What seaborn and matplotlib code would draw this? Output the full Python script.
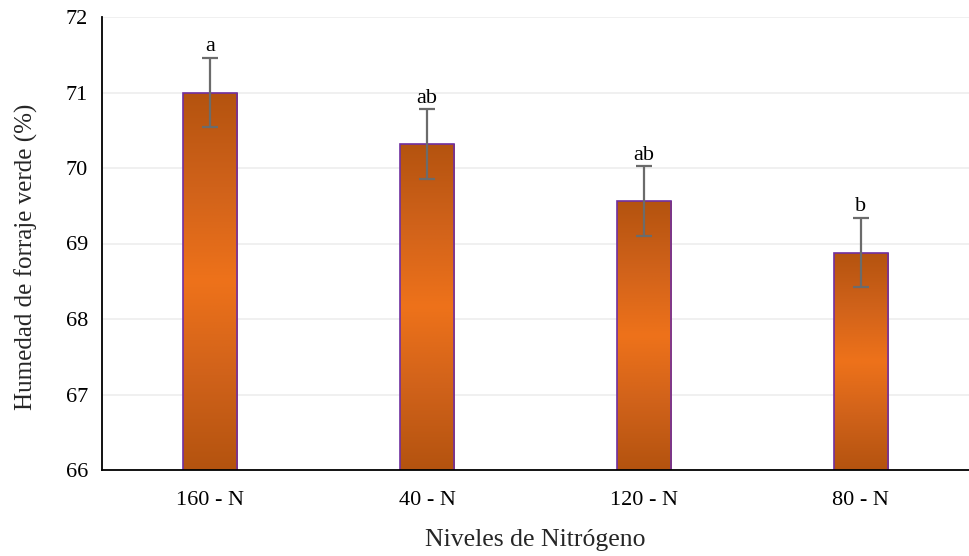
import numpy as np
import pandas as pd
import matplotlib
matplotlib.use("Agg")
import matplotlib.pyplot as plt
import seaborn as sns
from matplotlib.colors import LinearSegmentedColormap

categories = ["160 - N", "40 - N", "120 - N", "80 - N"]
values = [71.0, 70.32, 69.56, 68.88]
errors = [0.46, 0.46, 0.46, 0.46]
letters = ["a", "ab", "ab", "b"]
yticks = [66, 67, 68, 69, 70, 71, 72]

sns.set_theme(style="white")
plt.rcParams["font.family"] = ["Liberation Serif", "DejaVu Serif"]

df = pd.DataFrame({"cat": categories, "val": values})

fig = plt.figure(figsize=(9.69, 5.56), dpi=100)
ax = fig.add_axes([102 / 969, 1 - 470 / 556, (969 - 102) / 969, (470 - 17) / 556])

sns.barplot(data=df, x="cat", y="val", ax=ax, width=0.25, color="#D9651A",
            edgecolor="#7030A0", linewidth=1.2, zorder=2)

ax.set_ylim(66, 72)
ax.set_xlim(-0.5, 3.5)

# gradient overlay
cmap = LinearSegmentedColormap.from_list(
    "g", ["#B4530F", "#D0621A", "#EE721A", "#D0621A", "#B4530F"])
grad = np.linspace(0, 1, 256).reshape(-1, 1)
for p in ax.patches:
    x0, y0 = p.get_x(), p.get_y()
    w, h = p.get_width(), p.get_height()
    im = ax.imshow(grad, extent=[x0, x0 + w, 66, y0 + h], aspect="auto",
                   cmap=cmap, origin="upper", zorder=2.1)
    im.set_clip_path(p)
    p.set_facecolor("none")
    p.set_zorder(2.2)

ax.errorbar(range(len(values)), values, yerr=errors, fmt="none",
            ecolor="#6B6B6B", elinewidth=1.6, capsize=6, capthick=1.6, zorder=3)

for i, (v, e, t) in enumerate(zip(values, errors, letters)):
    ax.text(i, v + e + 0.02, t, ha="center", va="bottom", fontsize=16, color="black")

ax.set_yticks(yticks)
ax.yaxis.grid(True, color="#EDEDED", linewidth=1.2, zorder=0)
ax.set_axisbelow(True)
for s in ["top", "right"]:
    ax.spines[s].set_visible(False)
ax.spines["left"].set_color("black")
ax.spines["bottom"].set_color("black")
ax.spines["left"].set_linewidth(1.3)
ax.spines["bottom"].set_linewidth(1.3)

ax.tick_params(axis="both", labelsize=16, colors="black", length=0)
ax.tick_params(axis="x", pad=15)
ax.tick_params(axis="y", pad=10)
ax.set_xlabel("Niveles de Nitrógeno", fontsize=18.5, labelpad=14)
ax.set_ylabel("Humedad de forraje verde (%)", fontsize=18)
ax.yaxis.set_label_coords(-0.074, 0.47)

fig.savefig("out.png", dpi=100)
